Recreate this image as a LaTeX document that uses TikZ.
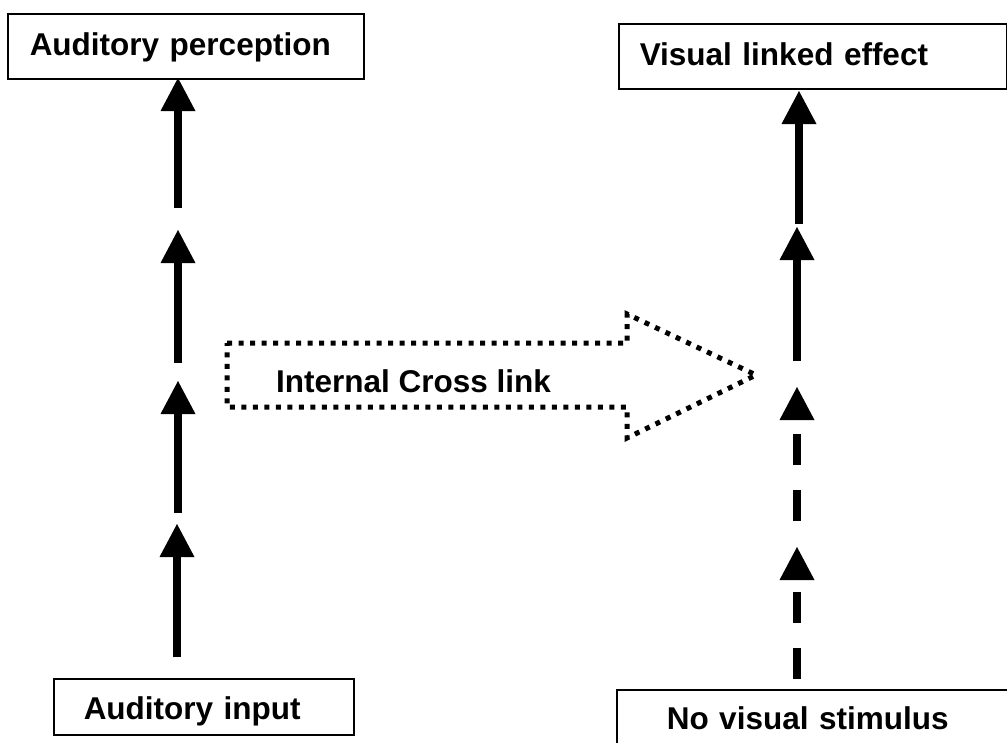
\documentclass[tikz,border=0pt]{standalone}
\usepackage{fontspec}
\setmainfont{Liberation Sans}
\usetikzlibrary{arrows.meta}
\begin{document}
\begin{tikzpicture}[x=1pt,y=-1pt,
  txt/.style={font=\bfseries\fontsize{31.5}{36}\selectfont},
  box/.style={txt, draw, line width=1.5pt, rectangle, anchor=north west, align=left, inner ysep=0pt},
  arr/.style={line width=7.5pt, -{Triangle[length=33pt,width=35pt,line width=0pt]}},
  dasharr/.style={arr, dash pattern=on 31pt off 25pt},
  dotarrow/.style={line width=5pt, dash pattern=on 5pt off 6.5pt, line join=miter}]
\useasboundingbox (0,0) rectangle (1007,742);
\clip (0,0) rectangle (1007,742);
% boxes
\node[box, minimum width=356pt, minimum height=65pt, inner xsep=22pt, text width=312pt,
      text height=22.6pt, text depth=5pt] (ap) at (7,13) {Auditory perception};
\node[box, minimum width=388pt, minimum height=65pt, inner xsep=21pt, text width=346pt,
      text height=22.6pt, text depth=3.6pt] (vl) at (618,23) {Visual linked effect};
\node[box, minimum width=300pt, minimum height=56pt, inner xsep=30pt, text width=240pt,
      text height=26pt, text depth=0pt] (ai) at (53,678) {Auditory input};
\node[box, minimum width=440pt, minimum height=57.4pt, inner xsep=50pt, text width=340pt,
      text height=22.6pt, text depth=0pt] (nv) at (616,689) {No visual stimulus};
% left column
\coordinate (L1) at (178,208); \coordinate (T1) at (178,78);
\coordinate (L2) at (178,363); \coordinate (T2) at (178,230);
\coordinate (L3) at (178,513); \coordinate (T3) at (178,381);
\coordinate (L4) at (177,657); \coordinate (T4) at (177,524);
\draw[arr] (L1) -- (T1);
\draw[arr] (L2) -- (T2);
\draw[arr] (L3) -- (T3);
\draw[arr] (L4) -- (T4);
% right column
\coordinate (R1) at (799,224); \coordinate (S1) at (799,91);
\coordinate (R2) at (797,361); \coordinate (S2) at (797,227);
\coordinate (R3) at (797,521); \coordinate (S3) at (797,387);
\coordinate (R4) at (797,679); \coordinate (S4) at (797,547);
\draw[arr] (R1) -- (S1);
\draw[arr] (R2) -- (S2);
\draw[dasharr] (R3) -- (S3);
\draw[dasharr] (R4) -- (S4);
% internal cross link block arrow
\draw[dotarrow] (227,343) -- (627,343) -- (627,314) -- (756,375) -- (627,438) -- (627,407) -- (227,407) -- cycle;
\node[txt, anchor=base west, inner sep=0pt] (icl) at (276,392) {Internal Cross link};
\end{tikzpicture}
\end{document}
